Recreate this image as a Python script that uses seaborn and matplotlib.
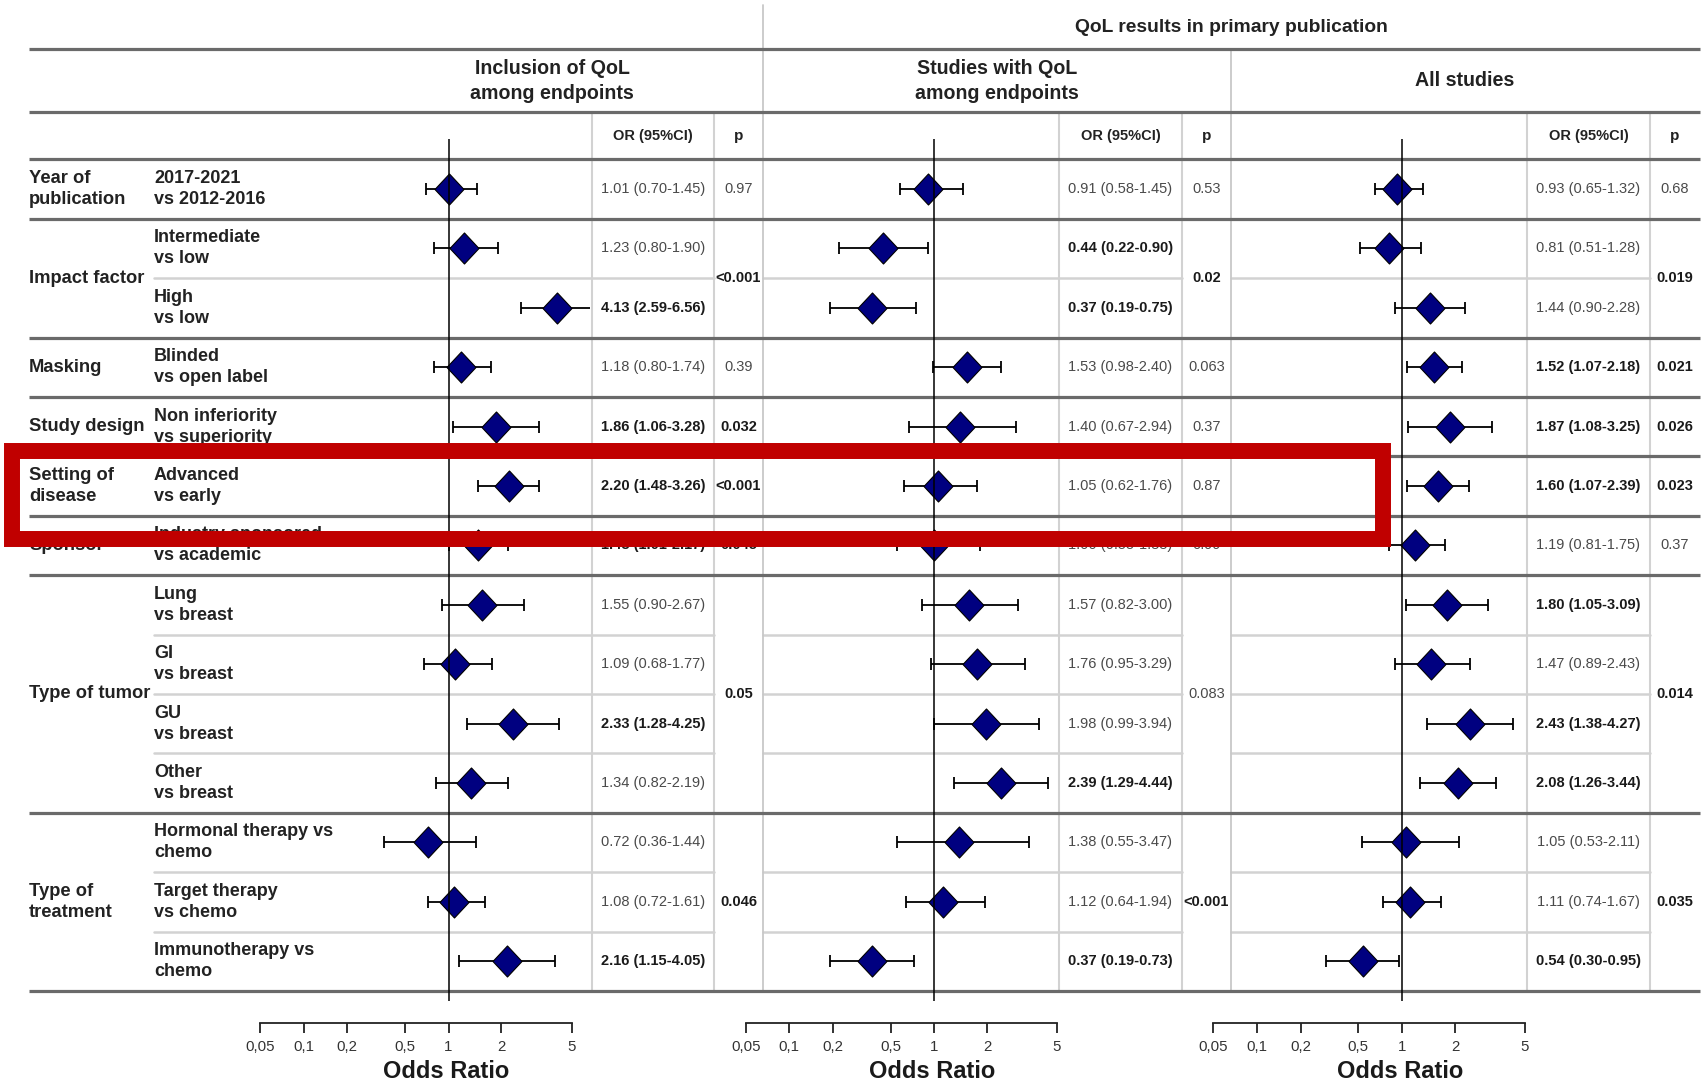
import numpy as np
import pandas as pd
import matplotlib
matplotlib.use("Agg")
import matplotlib.pyplot as plt
import seaborn as sns
from matplotlib.patches import Rectangle
from matplotlib.path import Path

# ---------------- data ----------------
group_labels = ["Year of\npublication", "Impact factor", "Masking", "Study design",
                "Setting of\ndisease", "Sponsor", "Type of tumor", "Type of\ntreatment"]
group_sizes = [1, 2, 1, 1, 1, 1, 4, 3]
comparisons = ["2017-2021\nvs 2012-2016", "Intermediate\nvs low", "High\nvs low",
               "Blinded\nvs open label", "Non inferiority\nvs superiority",
               "Advanced\nvs early", "Industry sponsored\nvs academic",
               "Lung\nvs breast", "GI\nvs breast", "GU\nvs breast", "Other\nvs breast",
               "Hormonal therapy vs\nchemo", "Target therapy\nvs chemo",
               "Immunotherapy vs\nchemo"]

incl_or = [1.01, 1.23, 4.13, 1.18, 1.86, 2.20, 1.48, 1.55, 1.09, 2.33, 1.34, 0.72, 1.08, 2.16]
incl_lo = [0.70, 0.80, 2.59, 0.80, 1.06, 1.48, 1.01, 0.90, 0.68, 1.28, 0.82, 0.36, 0.72, 1.15]
incl_hi = [1.45, 1.90, 6.56, 1.74, 3.28, 3.26, 2.17, 2.67, 1.77, 4.25, 2.19, 1.44, 1.61, 4.05]
incl_p = ["0.97", "<0.001", "0.39", "0.032", "<0.001", "0.045", "0.05", "0.046"]

qol_or = [0.91, 0.44, 0.37, 1.53, 1.40, 1.05, 1.00, 1.57, 1.76, 1.98, 2.39, 1.38, 1.12, 0.37]
qol_lo = [0.58, 0.22, 0.19, 0.98, 0.67, 0.62, 0.55, 0.82, 0.95, 0.99, 1.29, 0.55, 0.64, 0.19]
qol_hi = [1.45, 0.90, 0.75, 2.40, 2.94, 1.76, 1.83, 3.00, 3.29, 3.94, 4.44, 3.47, 1.94, 0.73]
qol_p = ["0.53", "0.02", "0.063", "0.37", "0.87", "0.99", "0.083", "<0.001"]

all_or = [0.93, 0.81, 1.44, 1.52, 1.87, 1.60, 1.19, 1.80, 1.47, 2.43, 2.08, 1.05, 1.11, 0.54]
all_lo = [0.65, 0.51, 0.90, 1.07, 1.08, 1.07, 0.81, 1.05, 0.89, 1.38, 1.26, 0.53, 0.74, 0.30]
all_hi = [1.32, 1.28, 2.28, 2.18, 3.25, 2.39, 1.75, 3.09, 2.43, 4.27, 3.44, 2.11, 1.67, 0.95]
all_p = ["0.68", "0.019", "0.021", "0.026", "0.023", "0.37", "0.014", "0.035"]

panel_titles = ["Inclusion of QoL\namong endpoints", "Studies with QoL\namong endpoints", "All studies"]
super_title = "QoL results in primary publication"
axis_ticks = [0.05, 0.1, 0.2, 0.5, 1, 2, 5]
axis_ticklabels = ["0,05", "0,1", "0,2", "0,5", "1", "2", "5"]

# ---------------- style / layout ----------------
sns.set_style("white")
NARROW = ["Liberation Sans Narrow", "Liberation Sans", "DejaVu Sans"]
WIDE = ["Liberation Sans", "DejaVu Sans"]
plt.rcParams["font.family"] = NARROW

W, H = 1703, 1088
ROW0, ROWSTEP = 189, 59.4
K_LOW, K_HIGH = 145.0, 176.0  # px per decade below / above OR = 1
THICK = "#6a6a6a"
LIGHT = "#d2d2d2"
TXT = "#222222"


def or_fwd(x):
    l = np.log10(np.clip(np.asarray(x, dtype=float), 1e-12, None))
    return np.where(l < 0, l * K_LOW, l * K_HIGH)


def or_inv(u):
    u = np.asarray(u, dtype=float)
    return np.where(u < 0, 10 ** (u / K_LOW), 10 ** (u / K_HIGH))


panels = [
    dict(orv=incl_or, lo=incl_lo, hi=incl_hi, p=incl_p, title=panel_titles[0],
         title_x=552, ax_x=(160, 590), ref=448.5, or_x=653, p_x=738.5,
         seg=(154, 714), cols=(592, 714)),
    dict(orv=qol_or, lo=qol_lo, hi=qol_hi, p=qol_p, title=panel_titles[1],
         title_x=997, ax_x=(700, 1057), ref=934.5, or_x=1120.5, p_x=1206.5,
         seg=(763, 1182), cols=(1059, 1182)),
    dict(orv=all_or, lo=all_lo, hi=all_hi, p=all_p, title=panel_titles[2],
         title_x=1465, ax_x=(1170, 1525), ref=1402, or_x=1588.5, p_x=1675,
         seg=(1231, 1650), cols=(1527, 1650)),
]

n_rows = len(comparisons)
row_y = ROW0 + ROWSTEP * np.arange(n_rows)
starts = np.concatenate([[0], np.cumsum(group_sizes)[:-1]])

fig = plt.figure(figsize=(W / 100, H / 100), dpi=100)
fig.patch.set_facecolor("white")

ov = fig.add_axes([0, 0, 1, 1])
ov.set_xlim(0, W)
ov.set_ylim(H, 0)
ov.axis("off")

# horizontal thick rules
y_top_rules = [49, 112, ROW0 - ROWSTEP / 2]
for y in y_top_rules:
    ov.plot([29, 1700], [y, y], color=THICK, lw=2.3, solid_capstyle="butt", zorder=2)
for s, n in zip(starts, group_sizes):
    yb = ROW0 + ROWSTEP * (s + n - 0.5)
    ov.plot([29, 1700], [yb, yb], color=THICK, lw=2.3, solid_capstyle="butt", zorder=2)
    for j in range(1, n):
        yl = ROW0 + ROWSTEP * (s + j - 0.5)
        for pn in panels:
            ov.plot(list(pn["seg"]), [yl, yl], color=LIGHT, lw=1.8, zorder=1)

y_bottom = ROW0 + ROWSTEP * (n_rows - 0.5)
ov.plot([763, 763], [5, y_bottom], color="#c8c8c8", lw=1.3, zorder=1)
ov.plot([1231, 1231], [49, y_bottom], color="#c8c8c8", lw=1.3, zorder=1)
for pn in panels:
    for cx in pn["cols"]:
        ov.plot([cx, cx], [112, y_bottom], color=LIGHT, lw=1.5, zorder=1)

# header texts
ov.text(1231, 27, super_title, ha="center", va="center", fontsize=13.9,
        fontweight="bold", color=TXT)
for pn in panels:
    ov.text(pn["title_x"], 81, pn["title"], ha="center", va="center", fontsize=14.1,
            fontweight="bold", color=TXT, linespacing=1.35)
    ov.text(pn["or_x"], 136, "OR (95%CI)", ha="center", va="center", fontsize=10.5,
            fontweight="bold", color=TXT)
    ov.text(pn["p_x"], 136, "p", ha="center", va="center", fontsize=11,
            fontweight="bold", color=TXT)

# row labels
for lab, s, n in zip(group_labels, starts, group_sizes):
    yc = row_y[s:s + n].mean()
    ov.text(29, yc, lab, ha="left", va="center", fontsize=13.2, fontweight="bold",
            color=TXT, linespacing=1.32)
for lab, y in zip(comparisons, row_y):
    ov.text(154, y, lab, ha="left", va="center", fontsize=13, fontweight="bold",
            color=TXT, linespacing=1.32)

# OR text and p values
for pn in panels:
    for v, lo, hi, y in zip(pn["orv"], pn["lo"], pn["hi"], row_y):
        sig = (lo > 1) or (hi < 1)
        ov.text(pn["or_x"], y, f"{v:.2f} ({lo:.2f}-{hi:.2f})", ha="center", va="center",
                fontsize=10.5, fontweight="bold" if sig else "normal",
                color="#1a1a1a" if sig else "#4a4a4a")
    for ptxt, s, n in zip(pn["p"], starts, group_sizes):
        yc = row_y[s:s + n].mean()
        pv = float(ptxt.replace("<", ""))
        sig = pv <= 0.05
        ov.text(pn["p_x"], yc, ptxt, ha="center", va="center", fontsize=10.5,
                fontweight="bold" if sig else "normal",
                color="#1a1a1a" if sig else "#4a4a4a")

# diamond marker (slightly taller than wide)
diamond = Path([(-0.935, 0), (0, 1), (0.935, 0), (0, -1), (-0.935, 0)],
               [Path.MOVETO, Path.LINETO, Path.LINETO, Path.LINETO, Path.CLOSEPOLY])

AX_TOP, AX_BOT = 130, 1023
for pn in panels:
    x0, x1 = pn["ax_x"]
    ax = fig.add_axes([x0 / W, 1 - AX_BOT / H, (x1 - x0) / W, (AX_BOT - AX_TOP) / H])
    ax.patch.set_alpha(0)
    ax.set_xscale("function", functions=(or_fwd, or_inv))
    df = pd.DataFrame({"OR": pn["orv"], "lo": pn["lo"], "hi": pn["hi"], "y": row_y})
    ax.errorbar(df["OR"], df["y"], xerr=[df["OR"] - df["lo"], df["hi"] - df["OR"]],
                fmt="none", ecolor="black", elinewidth=1.3, capsize=4.3, capthick=1.3,
                zorder=2)
    sns.scatterplot(data=df, x="OR", y="y", marker=diamond, s=500, color="#000080",
                    edgecolor="black", linewidth=0.8, ax=ax, zorder=3, legend=False)
    ax.vlines(1, 139, 1001, color="black", lw=1.1, zorder=4)
    ax.set_xlim(float(or_inv(x0 - pn["ref"])), float(or_inv(x1 - pn["ref"])))
    ax.set_ylim(AX_BOT, AX_TOP)
    ax.set_xlabel("")
    ax.set_ylabel("")
    ax.grid(False)
    for side in ["top", "left", "right"]:
        ax.spines[side].set_visible(False)
    ax.spines["bottom"].set_bounds(axis_ticks[0], axis_ticks[-1])
    ax.spines["bottom"].set_color("#222222")
    ax.spines["bottom"].set_linewidth(1.3)
    ax.set_yticks([])
    ax.set_xticks(axis_ticks)
    ax.set_xticklabels(axis_ticklabels, fontsize=10.8, color="#333333", family=WIDE)
    ax.xaxis.set_minor_locator(matplotlib.ticker.NullLocator())
    ax.tick_params(axis="x", which="major", direction="out", length=7, width=1.3,
                   color="#222222", pad=5, bottom=True)
    ov.text(pn["ref"] - 2, 1072, "Odds Ratio", ha="center", va="center", fontsize=17,
            fontweight="bold", color="#1a1a1a", family=WIDE)

# highlight box
top = fig.add_axes([0, 0, 1, 1])
top.set_xlim(0, W)
top.set_ylim(H, 0)
top.axis("off")
top.patch.set_alpha(0)
top.add_patch(Rectangle((12, 451), 1382.5 - 12, 539 - 451, fill=False,
                        edgecolor="#C00000", lw=11.5, joinstyle="miter", zorder=10))

fig.savefig("out.png", dpi=100, facecolor="white")
